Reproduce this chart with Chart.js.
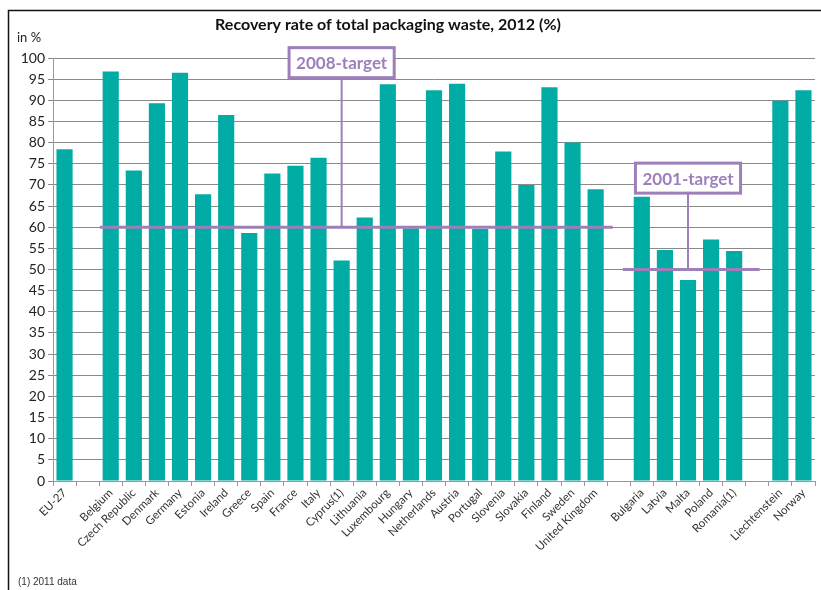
<!doctype html>
<html lang="en">
<head>
    <meta charset="utf-8">
    <title>Recovery rate of total packaging waste, 2012 (%)</title>
    <style>
        * {
            margin: 0;
            padding: 0;
        }

        body {
            width: 821px;
            height: 590px;
            background: #fff;
            overflow: hidden;
        }

        .chartBox {
            position: relative;
            width: 821px;
            height: 590px;
        }
    </style>
</head>
<body>
<div class="chartBox">
    <canvas id="myChart"></canvas>
</div>
<script src="https://cdn.jsdelivr.net/npm/chart.js"></script>
<script>
    // data (empty strings are the gaps between country groups)
    const countries = [
        'EU-27', '', 'Belgium', 'Czech Republic', 'Denmark', 'Germany', 'Estonia', 'Ireland',
        'Greece', 'Spain', 'France', 'Italy', 'Cyprus(1)', 'Lithuania', 'Luxembourg', 'Hungary',
        'Netherlands', 'Austria', 'Portugal', 'Slovenia', 'Slovakia', 'Finland', 'Sweden',
        'United Kingdom', '', 'Bulgaria', 'Latvia', 'Malta', 'Poland', 'Romania(1)', '',
        'Liechtenstein', 'Norway'
    ];
    const recoveryRate = [
        78.4, null, 96.8, 73.4, 89.3, 96.5, 67.8, 86.5,
        58.6, 72.7, 74.5, 76.4, 52.1, 62.3, 93.8, 59.7,
        92.4, 93.9, 59.6, 77.9, 70.0, 93.1, 80.0,
        69.0, null, 67.2, 54.6, 47.5, 57.1, 54.4, null,
        89.9, 92.4
    ];
    const yTicks = {min: 0, max: 100, step: 5};

    // targets: label, value, line extent and marker (in category index units)
    const targetNames = ['2008-target', '2001-target'];
    const targetValues = [60, 50];
    const targetFrom = [1.53, 24.18];
    const targetTo = [23.74, 30.1];
    const targetAnchor = [12.0, 27.0];
    const targetBoxAt = [98.9, 71.6];

    const purple = '#9d7fba';
    const teal = '#00aca4';

    // frame, title and footnote
    const decorations = {
        id: 'decorations',
        afterDraw(chart) {
            const {ctx} = chart;
            ctx.save();
            ctx.strokeStyle = '#111';
            ctx.lineWidth = 1.5;
            ctx.beginPath();
            ctx.moveTo(8.5, 600);
            ctx.lineTo(8.5, 10.5);
            ctx.lineTo(830, 10.5);
            ctx.stroke();

            ctx.fillStyle = '#111';
            ctx.font = 'bold 16px Lato';
            ctx.textAlign = 'center';
            ctx.textBaseline = 'middle';
            ctx.fillText('Recovery rate of total packaging waste, 2012 (%)', 388, 25);

            ctx.font = '13px Lato';
            ctx.textAlign = 'left';
            ctx.fillStyle = '#222';
            ctx.fillText('in %', 17, 38);

            ctx.font = '10px "Liberation Sans"';
            ctx.fillStyle = '#333';
            ctx.fillText('(1) 2011 data', 18, 582);
            ctx.restore();
        }
    };

    // target lines with their labelled boxes
    const targets = {
        id: 'targets',
        afterDatasetsDraw(chart) {
            const {ctx, scales: {x, y}} = chart;
            const slot = x.getPixelForValue(1) - x.getPixelForValue(0);
            const px = (i) => x.getPixelForValue(0) + i * slot;
            ctx.save();
            targetNames.forEach((name, k) => {
                const ly = y.getPixelForValue(targetValues[k]);
                const by = y.getPixelForValue(targetBoxAt[k]);
                const ax = px(targetAnchor[k]);

                ctx.font = 'bold 17px Lato';
                const w = ctx.measureText(name).width + 14;
                const h = 30;

                // connector
                ctx.strokeStyle = purple;
                ctx.lineWidth = 2;
                ctx.beginPath();
                ctx.moveTo(ax, by + h / 2);
                ctx.lineTo(ax, ly);
                ctx.stroke();

                // target line
                ctx.lineWidth = 3;
                ctx.beginPath();
                ctx.moveTo(px(targetFrom[k]), ly);
                ctx.lineTo(px(targetTo[k]), ly);
                ctx.stroke();

                // box
                ctx.fillStyle = '#fff';
                ctx.fillRect(ax - w / 2, by - h / 2, w, h);
                ctx.lineWidth = 3;
                ctx.strokeRect(ax - w / 2, by - h / 2, w, h);
                ctx.fillStyle = purple;
                ctx.textAlign = 'center';
                ctx.textBaseline = 'middle';
                ctx.fillText(name, ax, by + 1);
            });
            ctx.restore();
        }
    };

    const data = {
        labels: countries,
        datasets: [{
            label: 'Recovery rate',
            data: recoveryRate,
            backgroundColor: teal,
            borderWidth: 0,
            categoryPercentage: 1,
            barPercentage: 0.7
        }]
    };

    const config = {
        type: 'bar',
        data,
        options: {
            responsive: true,
            maintainAspectRatio: false,
            animation: false,
            layout: {
                padding: {top: 58, right: 6, left: 0, bottom: 0}
            },
            plugins: {
                legend: {display: false},
                tooltip: {enabled: false}
            },
            scales: {
                x: {
                    afterFit(scale) {
                        scale.height = 109;
                    },
                    grid: {
                        offset: true,
                        drawOnChartArea: false,
                        drawTicks: true,
                        tickLength: 5,
                        color: '#999'
                    },
                    border: {color: '#999', width: 1},
                    ticks: {
                        autoSkip: false,
                        maxRotation: 45,
                        minRotation: 45,
                        color: '#333',
                        font: {family: 'Lato', size: 11.5},
                        padding: 0
                    }
                },
                y: {
                    min: yTicks.min,
                    max: yTicks.max,
                    afterFit(scale) {
                        scale.width = 53;
                    },
                    grid: {
                        color: '#8a8a8a',
                        lineWidth: 1,
                        tickLength: 5
                    },
                    border: {color: '#999', width: 1},
                    ticks: {
                        stepSize: yTicks.step,
                        color: '#222',
                        font: {family: 'Lato', size: 14},
                        padding: 3
                    }
                }
            }
        },
        plugins: [targets, decorations]
    };

    const myChart = new Chart(
        document.getElementById('myChart'),
        config
    );
</script>
</body>
</html>
